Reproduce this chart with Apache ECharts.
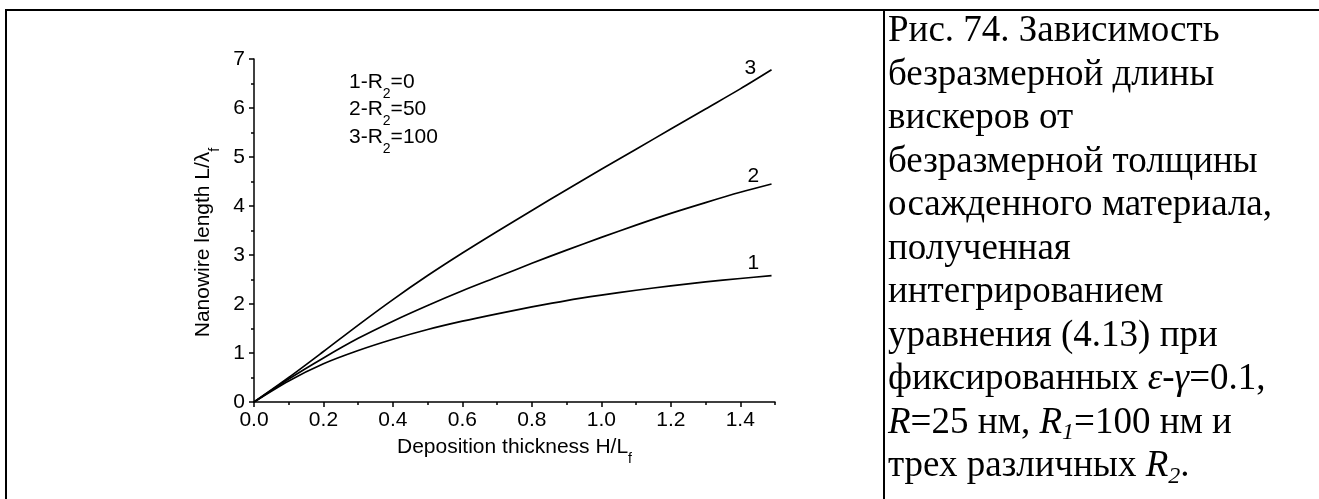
<!DOCTYPE html>
<html>
<head>
<meta charset="utf-8">
<script src="https://cdn.jsdelivr.net/npm/echarts@6/dist/echarts.min.js"></script>
<style>
  html, body { margin: 0; padding: 0; background: #ffffff; }
  #chart { width: 1319px; height: 499px; }
</style>
</head>
<body>
<div id="chart"></div>
<script>
// Deposition thickness H/Lf (x) and nanowire length L/λf (y) for three R2 values
const thickness  = [0, 0.1, 0.2, 0.3, 0.4, 0.5, 0.6, 0.7, 0.8, 0.9, 1.0, 1.1, 1.2, 1.3, 1.4, 1.49];
const lengthR0   = [0, 0.43, 0.78, 1.05, 1.28, 1.48, 1.65, 1.80, 1.94, 2.07, 2.18, 2.28, 2.37, 2.45, 2.52, 2.58];
const lengthR50  = [0, 0.47, 0.90, 1.30, 1.65, 1.97, 2.27, 2.55, 2.83, 3.10, 3.36, 3.61, 3.85, 4.07, 4.28, 4.45];
const lengthR100 = [0, 0.50, 1.03, 1.57, 2.09, 2.58, 3.04, 3.48, 3.91, 4.33, 4.75, 5.16, 5.57, 5.98, 6.39, 6.78];
const curveLabels = ['1', '2', '3'];

// Axis ticks
const xMajorTicks = [0, 0.2, 0.4, 0.6, 0.8, 1.0, 1.2, 1.4];
const xMinorTicks = [0.1, 0.3, 0.5, 0.7, 0.9, 1.1, 1.3, 1.5];
const yTicks = [0, 1, 2, 3, 4, 5, 6, 7];

// Key text: prefix, subscript, suffix
const keyLines = [['1-R', '2', '=0'], ['2-R', '2', '=50'], ['3-R', '2', '=100']];

// Caption lines (rich text markup)
const captionLines = [
  'Рис. 74. Зависимость',
  'безразмерной длины',
  'вискеров от',
  'безразмерной толщины',
  'осажденного материала,',
  'полученная',
  'интегрированием',
  'уравнения (4.13) при',
  'фиксированных {i|ε-γ}=0.1,',
  '{i|R}=25 нм, {i|R}{isub|1}=100 нм и',
  'трех различных {i|R}{isub|2}.'
];

const SANS = "'Liberation Sans', Arial, sans-serif";
const SERIF = "'Liberation Serif', 'Times New Roman', serif";
const AX = 21;

const chart = echarts.init(document.getElementById('chart'), null, { renderer: 'canvas' });

const curves = [lengthR0, lengthR50, lengthR100];
// label placement relative to each curve end
const endOffsets = [[-32, -12], [-32, -8], [-35, -2]];

const series = curves.map((vals, k) => ({
  type: 'line',
  xAxisIndex: 0,
  yAxisIndex: 0,
  data: thickness.map((x, i) => [x, vals[i]]),
  smooth: 0.3,
  showSymbol: false,
  symbol: 'none',
  silent: true,
  lineStyle: { color: '#000', width: 1.7 },
  endLabel: {
    show: true,
    offset: endOffsets[k],
    formatter: curveLabels[k],
    color: '#000',
    fontFamily: SANS,
    fontSize: AX
  },
  animation: false
}));

// lowered small text for subscripts
const subRich = {
  s: { fontFamily: SANS, fontSize: 14, lineHeight: 14, padding: [16, 0, 0, 0], verticalAlign: 'top', color: '#000' }
};

const keyGraphics = keyLines.map((p, i) => ({
  type: 'text',
  left: 349,
  top: 71 + i * 27.5,
  style: {
    text: p[0] + '{s|' + p[1] + '}' + p[2],
    fontFamily: SANS,
    fontSize: AX,
    lineHeight: 22,
    fill: '#000',
    rich: subRich
  }
}));

const option = {
  backgroundColor: '#ffffff',
  animation: false,
  grid: { left: 254, right: 544, top: 59, bottom: 97, containLabel: false },
  xAxis: [
    {
      type: 'value', position: 'bottom', min: 0, max: 1.5,
      name: 'Deposition thickness H/L{s|f}',
      nameLocation: 'middle', nameGap: 29,
      nameTextStyle: { fontFamily: SANS, fontSize: AX, color: '#000', lineHeight: 22, rich: subRich },
      axisLine: { show: true, lineStyle: { color: '#000', width: 1.5 } },
      axisTick: { show: true, inside: false, length: 5, customValues: xMajorTicks, lineStyle: { color: '#000', width: 1.5 } },
      axisLabel: { show: true, margin: 8, customValues: xMajorTicks, color: '#000', fontFamily: SANS, fontSize: AX,
        formatter: v => v.toFixed(1) },
      splitLine: { show: false }
    },
    {
      type: 'value', position: 'bottom', min: 0, max: 1.5,
      axisLine: { show: false },
      axisTick: { show: true, inside: false, length: 3, customValues: xMinorTicks, lineStyle: { color: '#000', width: 1.5 } },
      axisLabel: { show: false },
      splitLine: { show: false }
    }
  ],
  yAxis: {
    type: 'value', min: 0, max: 7, interval: 1,
    name: 'Nanowire length L/λ{s|f}',
    nameLocation: 'middle', nameGap: 40, nameRotate: 90,
    nameTextStyle: { fontFamily: SANS, fontSize: AX, color: '#000', lineHeight: 22, rich: subRich, padding: [0, 24, 0, 0] },
    axisLine: { show: true, lineStyle: { color: '#000', width: 1.5 } },
    axisTick: { show: true, inside: false, length: 5, customValues: yTicks, lineStyle: { color: '#000', width: 1.5 } },
    minorTick: { show: true, splitNumber: 2, length: 3, lineStyle: { color: '#000', width: 1.5 } },
    axisLabel: { show: true, margin: 9, customValues: yTicks, color: '#000', fontFamily: SANS, fontSize: AX },
    splitLine: { show: false },
    minorSplitLine: { show: false }
  },
  graphic: [
    // frame of the figure table
    { type: 'line', shape: { x1: 5, y1: 10, x2: 1319, y2: 10 }, style: { stroke: '#000', lineWidth: 2 } },
    { type: 'line', shape: { x1: 6, y1: 9, x2: 6, y2: 499 }, style: { stroke: '#000', lineWidth: 2 } },
    { type: 'line', shape: { x1: 884, y1: 9, x2: 884, y2: 499 }, style: { stroke: '#000', lineWidth: 2 } },
    ...keyGraphics,
    {
      type: 'text',
      left: 888,
      top: 10,
      style: {
        text: captionLines.join('\n'),
        fontFamily: SERIF,
        fontSize: 37,
        lineHeight: 43.5,
        fill: '#000',
        rich: {
          i: { fontFamily: SERIF, fontSize: 37, fontStyle: 'italic', lineHeight: 43.5, color: '#000' },
          isub: { fontFamily: SERIF, fontSize: 24, fontStyle: 'italic', lineHeight: 20, verticalAlign: 'bottom', color: '#000' }
        }
      }
    }
  ],
  series: series
};

chart.setOption(option);
</script>
</body>
</html>
